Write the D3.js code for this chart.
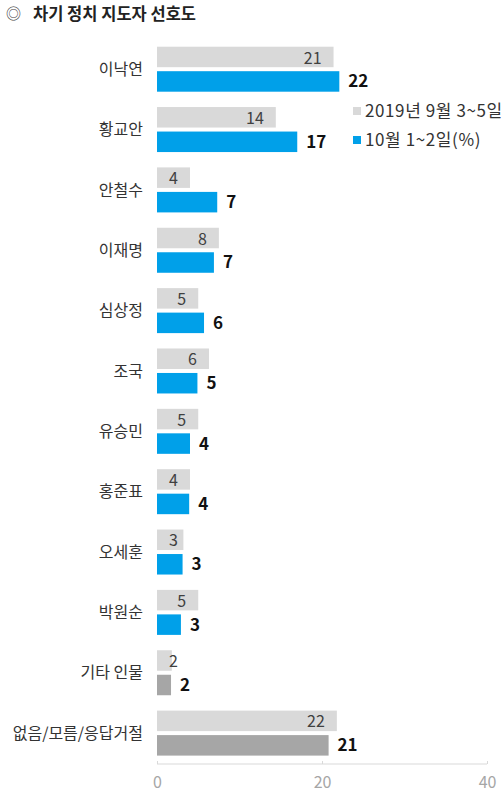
<!DOCTYPE html>
<html>
<head>
<meta charset="utf-8">
<script src="https://cdn.jsdelivr.net/npm/d3@7"></script>
<style>
  body { margin: 0; background: #fff; }
  text { font-family: "Noto Sans CJK KR", "Noto Sans", sans-serif; }
</style>
</head>
<body>
<div id="chart"></div>
<script>
// data
const names = ["이낙연", "황교안", "안철수", "이재명", "심상정", "조국", "유승민", "홍준표", "오세훈", "박원순", "기타 인물", "없음/모름/응답거절"];
const prevValues = [21.4, 14.4, 4.0, 7.5, 5.0, 6.3, 5.0, 4.0, 3.2, 5.0, 1.8, 21.8];
const currValues = [22.1, 17.0, 7.3, 6.9, 5.7, 4.9, 4.0, 3.9, 3.1, 2.9, 1.7, 20.8];
const seriesLabels = ["2019년 9월 3~5일", "10월 1~2일(%)"];
const xTicks = [0, 20, 40];
const greyRows = ["기타 인물", "없음/모름/응답거절"];

const width = 503, height = 792;
const blue = "#00a0e9", lightGrey = "#d9d9d9", darkGrey = "#a6a6a6";

const rows = names.map((n, i) => ({ name: n, prev: prevValues[i], curr: currValues[i] }));

const svg = d3.select("#chart").append("svg")
    .attr("width", width)
    .attr("height", height);

// title
svg.append("text")
    .attr("x", 6).attr("y", 14).attr("dy", "0.35em")
    .attr("font-size", 15).attr("fill", "#444")
    .text("◎");
svg.append("text")
    .attr("x", 33).attr("y", 14).attr("dy", "0.35em")
    .attr("font-size", 16.5).attr("font-weight", "bold").attr("fill", "#222")
    .text("차기 정치 지도자 선호도");

// scales
const xScale = d3.scaleLinear().domain([0, 40]).range([157, 487]);
const yScale = d3.scaleBand().domain(names).range([46.7, 755.6]).paddingInner(0.2545).paddingOuter(0);
const ySub = d3.scaleBand().domain(["prev", "curr"]).range([0, yScale.bandwidth()]).paddingInner(0.163);

const groups = svg.append("g").attr("id", "g_rows")
    .selectAll("g")
    .data(rows)
    .join("g")
    .attr("transform", d => `translate(0,${yScale(d.name)})`);

// category labels
groups.append("text")
    .attr("x", 143)
    .attr("y", yScale.bandwidth() / 2)
    .attr("dy", "0.35em")
    .attr("text-anchor", "end")
    .attr("font-size", 16)
    .attr("fill", "#333")
    .text(d => d.name);

// previous survey bars
groups.append("rect")
    .attr("x", xScale(0))
    .attr("y", ySub("prev"))
    .attr("width", d => xScale(d.prev) - xScale(0))
    .attr("height", ySub.bandwidth())
    .attr("fill", lightGrey);

groups.append("text")
    .attr("x", d => Math.max(xScale(d.prev) - 12, xScale(0) + 21))
    .attr("y", ySub("prev") + ySub.bandwidth() / 2 + 1)
    .attr("dy", "0.35em")
    .attr("text-anchor", "end")
    .attr("font-size", 16)
    .attr("fill", "#404040")
    .text(d => Math.round(d.prev));

// current survey bars
groups.append("rect")
    .attr("x", xScale(0))
    .attr("y", ySub("curr"))
    .attr("width", d => xScale(d.curr) - xScale(0))
    .attr("height", ySub.bandwidth())
    .attr("fill", d => greyRows.includes(d.name) ? darkGrey : blue);

groups.append("text")
    .attr("x", d => xScale(d.curr) + 9)
    .attr("y", ySub("curr") + ySub.bandwidth() / 2)
    .attr("dy", "0.35em")
    .attr("font-size", 17)
    .attr("font-weight", "bold")
    .attr("fill", "#111")
    .text(d => Math.round(d.curr));

// legend
const legend = svg.append("g").attr("id", "g_legend")
    .selectAll("g")
    .data(seriesLabels)
    .join("g")
    .attr("transform", (d, i) => `translate(353,${111 + i * 29})`);

legend.append("rect")
    .attr("x", 0).attr("y", -4)
    .attr("width", 8).attr("height", 8)
    .attr("fill", (d, i) => i === 0 ? lightGrey : blue);

legend.append("text")
    .attr("x", 12).attr("y", 0).attr("dy", "0.35em")
    .attr("font-size", 17)
    .attr("letter-spacing", 0.6)
    .attr("fill", "#333")
    .text(d => d);

// x axis
const axis = svg.append("g")
    .attr("class", "xaxis")
    .attr("transform", "translate(0,764)")
    .call(d3.axisTop(xScale).tickValues(xTicks).tickSize(3).tickFormat(d3.format("d")));
axis.select(".domain").attr("stroke", lightGrey).attr("d", `M${xScale(0)},0H${xScale(40)}`);
axis.selectAll(".tick line").attr("stroke", lightGrey);
axis.selectAll(".tick text")
    .attr("y", 18)
    .attr("dy", "0.35em")
    .attr("font-size", 16)
    .attr("fill", "#a6a6a6")
    .attr("font-family", "\"Noto Sans CJK KR\", sans-serif");
</script>
</body>
</html>
